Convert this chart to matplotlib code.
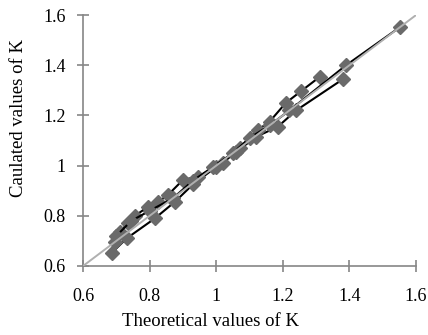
import matplotlib
matplotlib.use('Agg')
from matplotlib import pyplot as plt

# theoretical (x) vs calculated (y) values of K, three series
theo_a = [0.686, 0.731, 0.816, 0.876, 0.93, 1.00, 1.06, 1.12, 1.185, 1.24, 1.381]
calc_a = [0.652, 0.71, 0.79, 0.856, 0.925, 0.995, 1.055, 1.115, 1.155, 1.22, 1.345]

theo_b = [0.696, 0.711, 0.735, 0.756, 0.795, 0.826, 0.855, 0.90, 0.945, 1.02,
          1.07, 1.125, 1.16, 1.209, 1.256, 1.311]
calc_b = [0.697, 0.737, 0.77, 0.80, 0.836, 0.856, 0.883, 0.943, 0.956, 1.01,
          1.07, 1.142, 1.175, 1.25, 1.298, 1.354]

theo_c = [0.70, 0.745, 0.80, 0.87, 0.93, 0.99, 1.05, 1.10, 1.16, 1.22, 1.39, 1.553]
calc_c = [0.72, 0.78, 0.82, 0.87, 0.94, 0.995, 1.05, 1.11, 1.16, 1.22, 1.40, 1.553]

xticks = [0.6, 0.8, 1.0, 1.2, 1.4, 1.6]
yticks = [0.6, 0.8, 1.0, 1.2, 1.4, 1.6]
xticklabels = ['0.6', '0.8', '1', '1.2', '1.4', '1.6']
yticklabels = ['0.6', '0.8', '1', '1.2', '1.4', '1.6']

plt.rcParams['font.family'] = ['Liberation Serif', 'DejaVu Serif']

fig = plt.figure(figsize=(4.28, 3.35), dpi=100)
ax = fig.add_axes([0.194, 0.206, 0.778, 0.749])

axis_grey = '#868686'
for sx, sy in [(theo_a, calc_a), (theo_b, calc_b), (theo_c, calc_c)]:
    ax.plot(sx, sy, color='black', lw=1.5, marker='D', ms=7,
            mfc='#6a6a6a', mec='#6a6a6a', zorder=3)

# line of equality
ax.plot([0.6, 1.6], [0.6, 1.6], color='#b0b0b0', lw=1.4, zorder=4)

ax.set_xlim(0.6, 1.6)
ax.set_ylim(0.6, 1.6)
ax.set_xticks(xticks)
ax.set_xticklabels(xticklabels)
ax.set_yticks(yticks)
ax.set_yticklabels(yticklabels)

for side in ['top', 'right']:
    ax.spines[side].set_visible(False)
for side in ['left', 'bottom']:
    ax.spines[side].set_color(axis_grey)
    ax.spines[side].set_linewidth(1.2)
ax.tick_params(direction='inout', length=9, width=1.2, color=axis_grey,
               labelsize=13, labelcolor='black')
ax.tick_params(axis='x', pad=11)
ax.tick_params(axis='y', pad=8)

# Excel-style titles sit off-centre
ax.set_xlabel('Theoretical values of K', fontsize=13.5, va='center')
ax.xaxis.set_label_coords(0.384, -0.223)
ax.set_ylabel('Caulated values of K', fontsize=13.5, va='center')
ax.yaxis.set_label_coords(-0.195, 0.59)

fig.savefig('out.png', dpi=100)
